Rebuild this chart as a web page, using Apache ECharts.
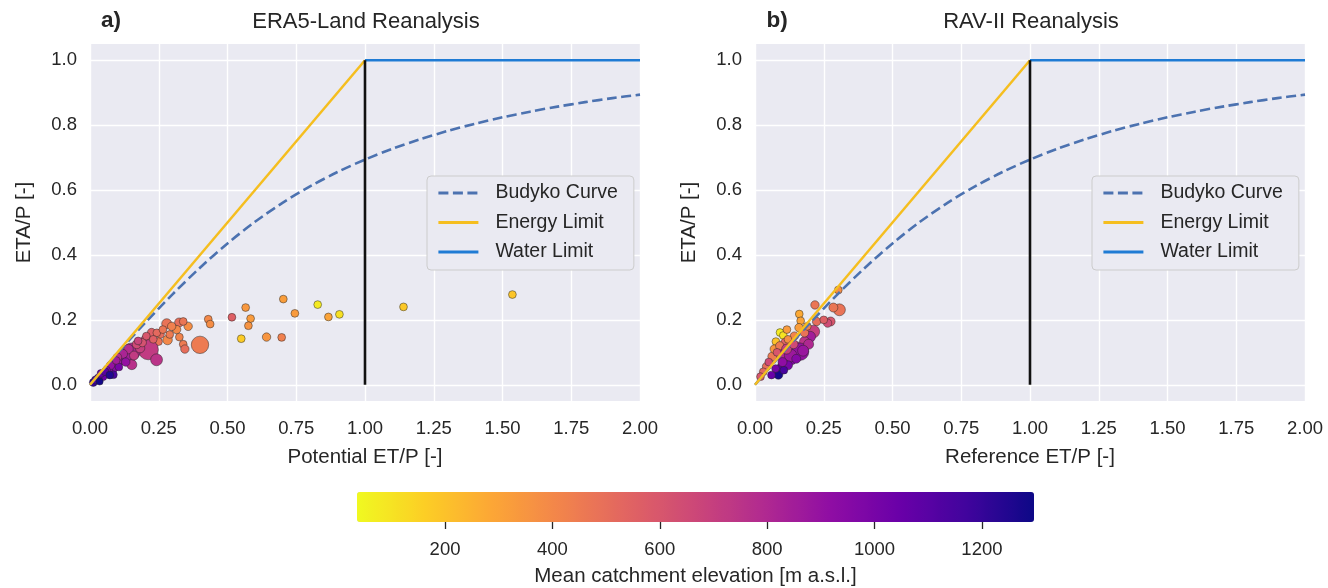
<!DOCTYPE html>
<html><head><meta charset="utf-8">
<script src="https://cdn.jsdelivr.net/npm/echarts@6/dist/echarts.min.js"></script>
<style>html,body{margin:0;padding:0;background:#fff}#c{width:1328px;height:588px}</style>
</head><body><div id="c"></div>
<script>
// ---------- data ----------
const panelTitles = ['ERA5-Land Reanalysis', 'RAV-II Reanalysis'];
const panelLetters = ['a)', 'b)'];
const xAxisNames = ['Potential ET/P [-]', 'Reference ET/P [-]'];
const yAxisName = 'ETA/P [-]';
const colorbarName = 'Mean catchment elevation [m a.s.l.]';
const yTicks = [0, 0.2, 0.4, 0.6, 0.8, 1.0];
const cbTicks = [200, 400, 600, 800, 1000, 1200];
const elevMin = 36, elevMax = 1297;

const budykoX = [0, 0.05, 0.1, 0.2, 0.3, 0.4, 0.5, 0.6, 0.7, 0.8, 0.9, 1.0, 1.1, 1.2, 1.3, 1.4, 1.5, 1.6, 1.7, 1.8, 1.9, 2.0];
const budykoY = [0, 0.0494, 0.0976, 0.1904, 0.2785, 0.3607, 0.4355, 0.5021, 0.5605, 0.6113, 0.6555, 0.6938, 0.7272, 0.7564, 0.7820, 0.8043, 0.8241, 0.8415, 0.8570, 0.8708, 0.8832, 0.8940];
const energyX = [0, 1], energyY = [0, 1];
const waterX = [1, 2], waterY = [1, 1];
const dividerX = [1, 1], dividerY = [0, 1];

// panel a (ERA5-Land)
const eraX = [1.536, 1.140, 0.907, 0.867, 0.828, 0.745, 0.703, 0.697, 0.642, 0.584, 0.566, 0.576, 0.550, 0.516, 0.430, 0.437, 0.400, 0.357, 0.339, 0.345, 0.324, 0.339, 0.315, 0.325, 0.279, 0.297, 0.282, 0.290, 0.255, 0.249, 0.224, 0.243, 0.201, 0.212, 0.242, 0.151, 0.133, 0.152, 0.182, 0.115, 0.085, 0.067, 0.048, 0.030, 0.012, 0.085, 0.170, 0.190, 0.140, 0.120, 0.100, 0.100, 0.075, 0.060, 0.040, 0.020, 0.105, 0.130, 0.160, 0.205, 0.230, 0.265, 0.175, 0.095, 0.055, 0.072, 0.035];
const eraY = [0.278, 0.240, 0.217, 0.209, 0.247, 0.220, 0.264, 0.146, 0.147, 0.204, 0.238, 0.182, 0.142, 0.208, 0.202, 0.187, 0.123, 0.180, 0.125, 0.110, 0.192, 0.195, 0.170, 0.147, 0.188, 0.180, 0.138, 0.155, 0.156, 0.133, 0.161, 0.160, 0.140, 0.108, 0.077, 0.102, 0.089, 0.062, 0.113, 0.077, 0.051, 0.046, 0.026, 0.021, 0.007, 0.031, 0.125, 0.130, 0.110, 0.095, 0.070, 0.085, 0.060, 0.045, 0.035, 0.015, 0.055, 0.070, 0.090, 0.150, 0.140, 0.170, 0.135, 0.075, 0.040, 0.030, 0.010];
const eraElev = [190, 180, 110, 300, 80, 330, 320, 430, 350, 330, 340, 360, 170, 560, 400, 380, 450, 380, 450, 500, 500, 470, 400, 420, 480, 430, 400, 450, 500, 480, 560, 520, 650, 720, 750, 800, 850, 760, 700, 900, 950, 980, 1050, 1100, 1200, 1150, 650, 620, 780, 820, 880, 780, 900, 1000, 1050, 1150, 1000, 900, 720, 600, 560, 470, 680, 850, 1100, 1250, 1280];
const eraArea = [300, 300, 300, 300, 300, 300, 300, 300, 350, 300, 300, 300, 300, 300, 300, 300, 1500, 350, 300, 350, 400, 300, 350, 300, 500, 350, 450, 300, 350, 300, 350, 300, 350, 2000, 700, 1500, 600, 500, 450, 450, 400, 350, 350, 300, 300, 300, 400, 350, 450, 400, 400, 350, 350, 300, 300, 300, 300, 350, 400, 300, 300, 300, 300, 300, 300, 300, 250];

// panel b (RAV-II)
const ravX = [0.303, 0.307, 0.285, 0.218, 0.275, 0.264, 0.224, 0.161, 0.166, 0.160, 0.091, 0.103, 0.116, 0.076, 0.212, 0.200, 0.180, 0.151, 0.164, 0.133, 0.103, 0.097, 0.085, 0.063, 0.042, 0.030, 0.070, 0.110, 0.130, 0.143, 0.120, 0.090, 0.080, 0.115, 0.140, 0.120, 0.150, 0.060, 0.050, 0.020, 0.180, 0.195, 0.175, 0.105, 0.075, 0.250, 0.190, 0.100];
const ravY = [0.292, 0.231, 0.238, 0.246, 0.195, 0.190, 0.195, 0.218, 0.197, 0.176, 0.161, 0.152, 0.170, 0.133, 0.164, 0.148, 0.133, 0.118, 0.102, 0.077, 0.095, 0.056, 0.031, 0.087, 0.056, 0.040, 0.110, 0.130, 0.090, 0.150, 0.140, 0.120, 0.100, 0.110, 0.125, 0.060, 0.080, 0.030, 0.070, 0.025, 0.160, 0.125, 0.105, 0.045, 0.050, 0.200, 0.180, 0.070];
const ravElev = [380, 480, 470, 470, 600, 650, 500, 280, 300, 320, 80, 100, 330, 200, 700, 850, 750, 720, 900, 950, 800, 1100, 1280, 450, 500, 520, 350, 550, 870, 420, 380, 450, 600, 700, 650, 1000, 950, 1050, 650, 600, 480, 800, 880, 1150, 1000, 560, 420, 920];
const ravArea = [300, 700, 400, 350, 400, 350, 350, 300, 300, 350, 300, 300, 300, 300, 800, 600, 500, 450, 1500, 500, 1200, 400, 400, 400, 350, 300, 350, 400, 800, 350, 300, 350, 300, 500, 400, 400, 400, 300, 300, 300, 350, 500, 600, 300, 300, 300, 300, 400];

// ---------- chart ----------
const zip = (xs, ys, es, as) => xs.map((x, i) => [x, ys[i], es[i], as[i]]);
const pts = (xs, ys) => xs.map((x, i) => [x, ys[i]]);
const TXT = '#262626';
const FONT = '"Liberation Sans", Arial, sans-serif';
const plasmaR = ['#f0f921', '#fcce25', '#fca636', '#f2844b', '#e16462', '#cc4778', '#b12a90', '#8f0da4', '#6a00a8', '#41049d', '#0d0887'];
const gridLefts = [90, 755];

const chart = echarts.init(document.getElementById('c'), null, { renderer: 'canvas' });

const grids = gridLefts.map(l => ({ left: l, top: 44, width: 550, height: 357, show: true, backgroundColor: '#eaeaf2', borderWidth: 0, containLabel: false }));
grids.push({ left: 357, top: 492, width: 677, height: 34, show: false });

const xAxes = [0, 1].map(i => ({
  gridIndex: i, type: 'value', min: 0, max: 2, interval: 0.25,
  axisLine: { show: false }, axisTick: { show: false },
  splitLine: { show: true, lineStyle: { color: '#ffffff', width: 1.4 } },
  axisLabel: { fontSize: 18.5, color: TXT, fontFamily: FONT, margin: 18, formatter: v => v.toFixed(2) },
  name: xAxisNames[i], nameLocation: 'middle', nameGap: 46,
  nameTextStyle: { fontSize: 20.5, color: TXT, fontFamily: FONT }
}));
xAxes.push({
  gridIndex: 2, type: 'value', min: elevMin, max: elevMax,
  axisLine: { show: false },
  axisTick: { show: true, customValues: cbTicks, length: 7, lineStyle: { color: TXT, width: 1.3 } },
  axisLabel: { customValues: cbTicks, fontSize: 18.5, color: TXT, fontFamily: FONT, margin: 18, formatter: v => String(v) },
  splitLine: { show: false },
  name: colorbarName, nameLocation: 'middle', nameGap: 44,
  nameTextStyle: { fontSize: 20.5, color: TXT, fontFamily: FONT }
});

const yAxes = [0, 1].map(i => ({
  gridIndex: i, type: 'value', min: -0.05, max: 1.05,
  axisLine: { show: false },
  axisTick: { show: false, customValues: yTicks },
  splitLine: { show: true, lineStyle: { color: '#ffffff', width: 1.4 } },
  axisLabel: { customValues: yTicks, fontSize: 18.5, color: TXT, fontFamily: FONT, margin: 13, formatter: v => v.toFixed(1) },
  name: yAxisName, nameLocation: 'middle', nameGap: 55, nameRotate: 90,
  nameTextStyle: { fontSize: 20.5, color: TXT, fontFamily: FONT }
}));
yAxes.push({ gridIndex: 2, type: 'value', show: false, min: 0, max: 1 });

const series = [];
[[eraX, eraY, eraElev, eraArea], [ravX, ravY, ravElev, ravArea]].forEach((d, i) => {
  series.push({
    type: 'scatter', name: 'Catchments ' + i, xAxisIndex: i, yAxisIndex: i,
    data: zip(d[0], d[1], d[2], d[3]),
    symbolSize: v => 0.45 * Math.sqrt(v[3]),
    itemStyle: { borderColor: 'rgba(35,35,35,0.8)', borderWidth: 0.6, opacity: 1 },
    z: 2
  });
});
const lineSeries = (name, i, data, ls, z) => ({
  type: 'line', name: name, xAxisIndex: i, yAxisIndex: i, data: data,
  symbol: 'none', showSymbol: false, itemStyle: { opacity: 0 },
  lineStyle: ls, z: z
});
[0, 1].forEach(i => {
  series.push(Object.assign(lineSeries('Budyko Curve', i, pts(budykoX, budykoY), { color: '#4c72b0', width: 2.6, type: [10, 4.5] }, 4), { smooth: 0.3 }));
  series.push(lineSeries('Energy Limit', i, pts(energyX, energyY), { color: '#f5be1f', width: 2.5 }, 5));
  series.push(lineSeries('Water Limit', i, pts(waterX, waterY), { color: '#1f7bd4', width: 2.6 }, 5));
  series.push(lineSeries('Limit divider', i, pts(dividerX, dividerY), { color: '#111111', width: 2.6 }, 6));
});

const legendNames = ['Budyko Curve', 'Energy Limit', 'Water Limit'];
const legends = [427, 1092].map(l => ({
  data: legendNames, orient: 'vertical', left: l, top: 176,
  itemWidth: 40, itemHeight: 14, itemGap: 9.5,
  itemStyle: { opacity: 0 },
  lineStyle: { width: 2.8 },
  padding: [7, 16, 8, 10], backgroundColor: '#eaeaf2', borderColor: '#cccccc', borderWidth: 1, borderRadius: 4,
  textStyle: { fontSize: 19.5, color: TXT, fontFamily: FONT, padding: [0, 0, 0, 12], lineHeight: 20 },
  selectedMode: false
}));

const titles = [];
[366, 1031].forEach((cx, i) => {
  titles.push({ text: panelTitles[i], left: cx, top: 11, textAlign: 'center', padding: 0,
    textStyle: { fontSize: 22, fontWeight: 'normal', color: TXT, fontFamily: FONT } });
});
[111, 777].forEach((cx, i) => {
  titles.push({ text: panelLetters[i], left: cx, top: 9, textAlign: 'center', padding: 0,
    textStyle: { fontSize: 22.5, fontWeight: 'bold', color: TXT, fontFamily: FONT } });
});

chart.setOption({
  animation: false,
  backgroundColor: '#ffffff',
  title: titles,
  grid: grids,
  xAxis: xAxes,
  yAxis: yAxes,
  legend: legends,
  visualMap: {
    type: 'continuous', min: elevMin, max: elevMax, dimension: 2, seriesIndex: [0, 1],
    orient: 'horizontal', left: 357, top: 492, itemWidth: 30, itemHeight: 677,
    calculable: false, text: null, padding: 0, hoverLink: false, realtime: false,
    inRange: { color: plasmaR }
  },
  series: series
});
</script></body></html>
